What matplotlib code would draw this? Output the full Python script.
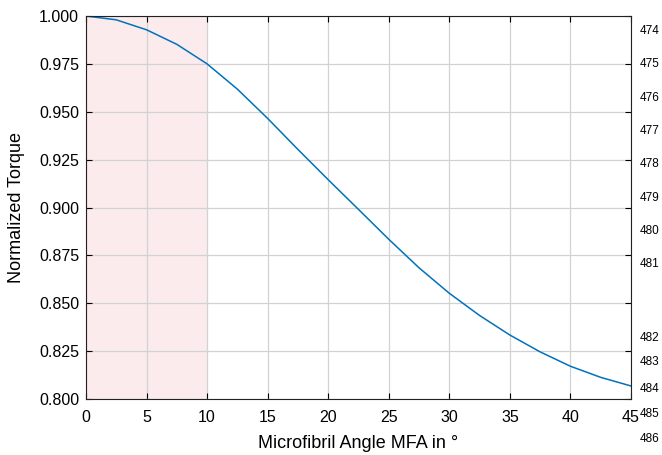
import matplotlib
matplotlib.use('Agg')
import matplotlib.pyplot as plt

plt.rcParams['font.family'] = ['Liberation Sans', 'DejaVu Sans']

# curve (MFA in degrees -> normalized torque)
mfa = [0, 2.5, 5, 7.5, 10, 12.5, 15, 17.5, 20, 22.5, 25, 27.5, 30, 32.5, 35, 37.5, 40, 42.5, 45]
torque = [1.0000, 0.9980, 0.9928, 0.9852, 0.9750, 0.9618, 0.9465, 0.9303, 0.9145, 0.8990,
          0.8834, 0.8685, 0.8552, 0.8436, 0.8334, 0.8246, 0.8171, 0.8113, 0.8068]

# shaded range of small MFA
shade_start, shade_end = 0, 10

x_ticks = [0, 5, 10, 15, 20, 25, 30, 35, 40, 45]
y_ticks = [0.800, 0.825, 0.850, 0.875, 0.900, 0.925, 0.950, 0.975, 1.000]

# manuscript line numbers in the right margin
line_numbers = ['474', '475', '476', '477', '478', '479', '480', '481', '482', '483', '484', '485', '486']
line_number_y = [31, 64, 98, 131, 164, 198, 231, 264, 338, 362, 389, 414, 439]

fig = plt.figure(figsize=(6.62, 4.55), dpi=100)
ax = fig.add_axes([86 / 662, 56 / 455, 545 / 662, 383 / 455])

ax.axvspan(shade_start, shade_end, color='#fcebec', zorder=0.5, lw=0)
ax.plot(mfa, torque, color='#0072bd', lw=1.1, zorder=2)

ax.set_xlim(0, 45)
ax.set_ylim(0.8, 1.0)
ax.set_xticks(x_ticks)
ax.set_yticks(y_ticks)
ax.set_yticklabels([f'{v:.3f}' for v in y_ticks])

ax.set_axisbelow('line')
ax.grid(True, color='#d2d2d2', lw=0.9)
ax.tick_params(direction='in', length=4, width=0.8, top=True, right=True,
               labelsize=11.5, colors='black', pad=5)
ax.tick_params(axis='x', pad=8)
for s in ax.spines.values():
    s.set_linewidth(0.8)
    s.set_color('#222222')

ax.set_xlabel('Microfibril Angle MFA in °', fontsize=13, labelpad=7)
ax.set_ylabel('Normalized Torque', fontsize=13, labelpad=10)

for lbl, yp in zip(line_numbers, line_number_y):
    fig.text(640 / 662, 1 - yp / 455, lbl, fontsize=8.5, va='center', ha='left')

plt.savefig('out.png', dpi=100)
